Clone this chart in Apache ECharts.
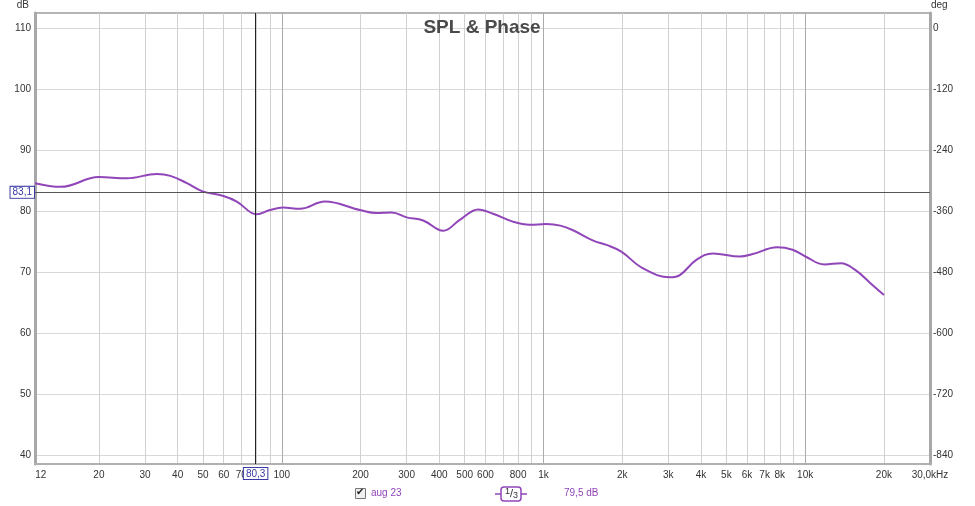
<!DOCTYPE html>
<html>
<head>
<meta charset="utf-8">
<title>SPL &amp; Phase</title>
<script src="https://cdn.jsdelivr.net/npm/echarts@6/dist/echarts.min.js"></script>
<style>
html,body{margin:0;padding:0;background:#fff;}
#chart{width:975px;height:506px;}
</style>
</head>
<body>
<div id="chart"></div>
<script>
var freqHz=[11.4,14.3,20,25.6,33.3,37.5,43.4,49.5,59.8,67.3,80.3,90.2,101,117.5,146,199,230,263,300,347,414,479,563,642,764,886,1025,1160,1297,1550,1740,1983,2393,3040,3330,3850,4440,5630,6300,7820,8950,10030,11840,13710,15530,17800,20000];
var splDb=[84.6,84.0,85.6,85.4,86.1,85.8,84.6,83.3,82.5,81.6,79.5,80.2,80.6,80.4,81.6,80.2,79.7,79.8,79.0,78.5,76.8,78.6,80.3,79.6,78.3,77.8,77.9,77.65,76.9,75.2,74.5,73.4,70.7,69.2,69.6,72.1,73.1,72.6,73.0,74.1,73.7,72.6,71.3,71.5,70.4,68.2,66.3];

// ticks
var freqLabels=[12,20,30,40,50,60,70,100,200,300,400,500,600,800,1000,2000,3000,4000,5000,6000,7000,8000,10000,20000,30000];
var freqGrid=[20,30,40,50,60,70,80,90,100,200,300,400,500,600,700,800,900,1000,2000,3000,4000,5000,6000,7000,8000,9000,10000,20000];
var dbTicks=[40,50,60,70,80,90,100,110];
var degTicks=[0,-120,-240,-360,-480,-600,-720,-840];

// cursor + legend
var cursorHz=80.3, cursorDb=83.1, cursorDeg=-322;
var traceName='aug 23', readout='79,5 dB';

var fMin=11.4, fMax=30000;
var dbMin=38.64, dbMax=112.45;
var degMin=(dbMin-110)*12, degMax=(dbMax-110)*12;

function lg(f){return Math.log(f)/Math.LN10;}
function comma(v){return String(v).replace('.',',');}

var purple='#9045b8';
var cursorBlue='#3a3aa6';
var boxLabel={
    color:cursorBlue,fontSize:10,fontFamily:'Liberation Sans, Arial',
    backgroundColor:'#fff',borderColor:cursorBlue,borderWidth:1,padding:[1,2,0,2]
};

// every 9th vertical line is a decade line (100, 1k, 10k)
var gridColors=['#d0d0d0','#d0d0d0','#d0d0d0','#d0d0d0','#d0d0d0','#d0d0d0','#d0d0d0','#d0d0d0','#ababab'];

var pts=[];
for(var i=0;i<freqHz.length;i++){
    pts.push([lg(freqHz[i]),splDb[i]]);
}

function fmtHz(v){
    var f=Math.round(Math.pow(10,v));
    if(f>=fMax) return comma((f/1000).toFixed(1))+'kHz';
    if(f>=1000) return (f/1000)+'k';
    return String(f);
}

var myChart=echarts.init(document.getElementById('chart'));
var option={
    animation:false,
    textStyle:{fontFamily:'Liberation Sans, Arial'},
    graphic:[
        {type:'text',x:482,y:28,z:100,style:{text:'SPL & Phase',align:'center',verticalAlign:'middle',
            fill:'#4a4a4a',fontSize:19,fontWeight:'bold',fontFamily:'Liberation Sans, Arial'}},
        {type:'rect',left:355,top:488,shape:{width:10,height:10},style:{fill:'#f0f0f0',stroke:'#777',lineWidth:1}},
        {type:'text',left:356,top:487,style:{text:'\u2714',fill:'#222',fontSize:10}},
        {type:'text',left:371,top:488,style:{text:traceName,fill:purple,fontSize:10,fontFamily:'Liberation Sans, Arial'}},
        {type:'line',shape:{x1:495,y1:494,x2:501,y2:494},style:{stroke:purple,lineWidth:1.5}},
        {type:'line',shape:{x1:521,y1:494,x2:527,y2:494},style:{stroke:purple,lineWidth:1.5}},
        {type:'rect',shape:{x:501,y:487,width:20,height:14,r:3},style:{fill:'#fff',stroke:purple,lineWidth:1.5}},
        {type:'text',left:505,top:487,style:{
            text:'{a|1}{b|/}{c|3}',
            rich:{a:{fontSize:9,fill:'#333',verticalAlign:'top'},b:{fontSize:11,fill:'#333'},c:{fontSize:9,fill:'#333',padding:[4,0,0,0]}}
        }},
        {type:'text',left:564,top:488,style:{text:readout,fill:purple,fontSize:10,fontFamily:'Liberation Sans, Arial'}}
    ],
    grid:{left:35,top:13,right:45,bottom:42,show:true,borderColor:'#b4b4b4',borderWidth:2},
    xAxis:{
        type:'value',min:lg(fMin),max:lg(fMax),
        axisLine:{show:true,onZero:false,lineStyle:{color:'#b0b0b0',width:2}},
        axisTick:{show:false,customValues:freqGrid.map(lg)},
        axisLabel:{customValues:freqLabels.map(lg),formatter:fmtHz,color:'#333',fontSize:10,margin:6},
        splitLine:{show:true,lineStyle:{color:gridColors,width:1}}
    },
    yAxis:[{
        type:'value',min:dbMin,max:dbMax,position:'left',
        name:'dB',nameLocation:'end',nameGap:3,
        nameTextStyle:{color:'#333',fontSize:10,align:'right',verticalAlign:'bottom',padding:[0,6,0,0]},
        axisLine:{show:true,onZero:false,lineStyle:{color:'#a8a8a8',width:3}},
        axisTick:{show:false,customValues:dbTicks},
        axisLabel:{customValues:dbTicks,color:'#333',fontSize:10,margin:4},
        splitLine:{show:true,lineStyle:{color:'#d8d8d8',width:1}}
    },{
        type:'value',min:degMin,max:degMax,position:'right',
        name:'deg',nameLocation:'end',nameGap:3,
        nameTextStyle:{color:'#333',fontSize:10,align:'left',verticalAlign:'bottom',padding:[0,0,0,1]},
        axisLine:{show:true,onZero:false,lineStyle:{color:'#a8a8a8',width:3}},
        axisTick:{show:false,customValues:degTicks},
        axisLabel:{customValues:degTicks,color:'#333',fontSize:10,margin:3},
        splitLine:{show:false}
    }],
    series:[{
        name:traceName,type:'line',data:pts,
        smooth:0.4,symbol:'none',
        lineStyle:{color:purple,width:2},
        markLine:{
            silent:true,symbol:'none',
            data:[
                {xAxis:lg(cursorHz),lineStyle:{color:'#222',width:1,type:'solid'},
                 label:Object.assign({position:'start',formatter:comma(cursorHz),distance:4},boxLabel)},
                {yAxis:cursorDb,lineStyle:{color:'#555',width:1,type:'solid'},
                 label:Object.assign({position:'start',formatter:comma(cursorDb),distance:1},boxLabel)},
                {yAxis:cursorDb,lineStyle:{opacity:0},
                 label:Object.assign({position:'end',formatter:String(cursorDeg),distance:2},boxLabel)}
            ]
        }
    }]
};
myChart.setOption(option);
</script>
</body>
</html>
